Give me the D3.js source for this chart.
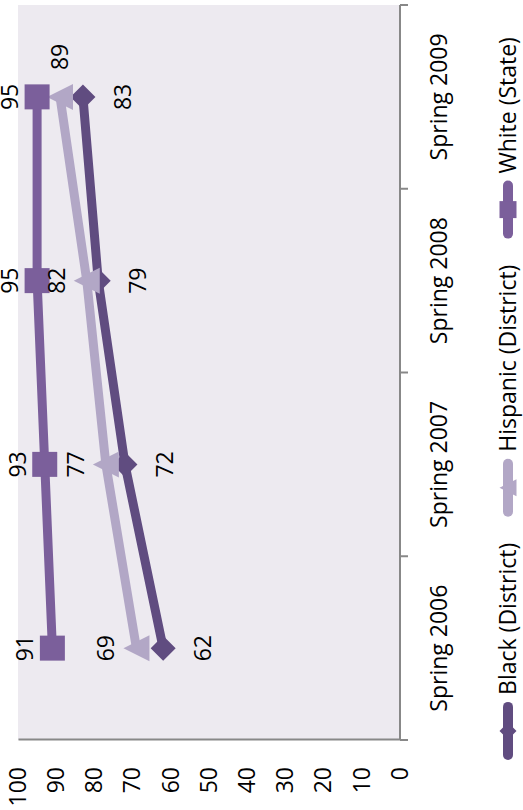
<!DOCTYPE html>
<html>
<head>
<meta charset="utf-8">
<script src="https://cdn.jsdelivr.net/npm/d3@7"></script>
<style>
  html, body { margin: 0; padding: 0; background: #ffffff; }
  svg { display: block; }
  text { font-family: "Open Sans", sans-serif; fill: #000; }
</style>
</head>
<body>
<svg id="chart" width="523" height="810"></svg>
<script>
// ---- data ----
const categories = ["Spring 2006", "Spring 2007", "Spring 2008", "Spring 2009"];
const seriesNames = ["Black (District)", "Hispanic (District)", "White (State)"];
const blackDistrict = [62, 72, 79, 83];
const hispanicDistrict = [69, 77, 82, 89];
const whiteState = [91, 93, 95, 95];
const valueTicks = [0, 10, 20, 30, 40, 50, 60, 70, 80, 90, 100];

// ---- styles / layout ----
const W = 810, H = 523;           // chart drawn in landscape, then rotated
const colors = ["#604C80", "#B2A7C6", "#7B5F9B"];
const shapes = ["diamond", "triangle", "square"];
const fontSize = 23;
const plot = { left: 70, right: 805, top: 18, bottom: 400 };

const svg = d3.select("#chart");
const g = svg.append("g").attr("transform", `translate(0,${W}) rotate(-90)`);

const x = d3.scaleBand().domain(categories).range([plot.left, plot.right]).padding(0);
const y = d3.scaleLinear().domain([0, 100]).range([plot.bottom, plot.top]);
const cx = c => x(c) + x.bandwidth() / 2;

// plot background
g.append("rect")
  .attr("x", plot.left).attr("y", plot.top)
  .attr("width", plot.right - plot.left).attr("height", plot.bottom - plot.top)
  .attr("fill", "#EDEAF0");

// value axis (left in landscape)
const yAxis = d3.axisLeft(y).tickValues(valueTicks).tickSize(0).tickPadding(27);
const ya = g.append("g").attr("transform", `translate(${plot.left},0)`).call(yAxis);
ya.select(".domain").attr("stroke", "#888888").attr("stroke-width", 2);
ya.selectAll("text").attr("font-size", fontSize).attr("font-family", "Open Sans, sans-serif").attr("fill", "#000");

// category axis (bottom in landscape)
const xaG = g.append("g");
xaG.append("line")
  .attr("x1", plot.left).attr("x2", plot.right)
  .attr("y1", plot.bottom).attr("y2", plot.bottom)
  .attr("stroke", "#888888").attr("stroke-width", 2);
const boundaries = categories.map(c => x(c)).concat([x(categories[categories.length - 1]) + x.bandwidth()]);
xaG.selectAll("line.tick").data(boundaries).enter().append("line")
  .attr("class", "tick")
  .attr("x1", d => d).attr("x2", d => d)
  .attr("y1", plot.bottom).attr("y2", plot.bottom + 8)
  .attr("stroke", "#888888").attr("stroke-width", 2);
xaG.selectAll("text").data(categories).enter().append("text")
  .attr("x", d => cx(d)).attr("y", plot.bottom + 47)
  .attr("text-anchor", "middle").attr("font-size", fontSize)
  .text(d => d);

// markers
function markerPath(shape, size) {
  const s = size / 2;
  if (shape === "square") return `M${-s},${-s}H${s}V${s}H${-s}Z`;
  if (shape === "diamond") return `M0,${-s}L${s},0L0,${s}L${-s},0Z`;
  // triangle pointing up
  return `M0,${-s}L${s},${s}L${-s},${s}Z`;
}

const allSeries = [blackDistrict, hispanicDistrict, whiteState];
const line = d3.line().x(d => cx(d.c)).y(d => y(d.v));

allSeries.forEach((vals, i) => {
  const pts = vals.map((v, j) => ({ c: categories[j], v }));
  const sg = g.append("g");
  sg.append("path").datum(pts)
    .attr("d", line).attr("fill", "none")
    .attr("stroke", colors[i]).attr("stroke-width", 9)
    .attr("stroke-linejoin", "round");
  const size = shapes[i] === "square" ? 25 : (shapes[i] === "diamond" ? 25 : 26);
  sg.selectAll("path.m").data(pts).enter().append("path")
    .attr("class", "m")
    .attr("d", markerPath(shapes[i], size))
    .attr("transform", d => `translate(${cx(d.c)},${y(d.v)})`)
    .attr("fill", colors[i]);
});

// data labels
function addLabel(px, py, txt) {
  g.append("text").attr("x", px).attr("y", py + 8)
    .attr("text-anchor", "middle").attr("font-size", fontSize).text(txt);
}
blackDistrict.forEach((v, j) => addLabel(cx(categories[j]), y(v) + 40, v));
hispanicDistrict.forEach((v, j) => {
  if (j === hispanicDistrict.length - 1) addLabel(cx(categories[j]) + 40, y(v), v);
  else addLabel(cx(categories[j]), y(v) - 30, v);
});
whiteState.forEach((v, j) => addLabel(cx(categories[j]), y(v) - 27, v));

// legend
const legY = 508;
const symLen = 58, symGap = 7, itemGap = 26;
const leg = g.append("g");
let items = [];
seriesNames.forEach((name, i) => {
  const it = leg.append("g");
  it.append("line").attr("x1", 5).attr("x2", symLen - 5).attr("y1", 0).attr("y2", 0)
    .attr("stroke", colors[i]).attr("stroke-width", 10).attr("stroke-linecap", "round");
  it.append("path").attr("d", markerPath(shapes[i], 17))
    .attr("transform", `translate(${symLen / 2},0)`).attr("fill", colors[i]);
  const t = it.append("text").attr("x", symLen + symGap).attr("y", 8)
    .attr("font-size", fontSize).text(name);
  items.push({ it, w: symLen + symGap + t.node().getComputedTextLength() });
});
const total = d3.sum(items, d => d.w) + itemGap * (items.length - 1);
let pos = 411.5 - total / 2;
items.forEach(d => {
  d.it.attr("transform", `translate(${pos},${legY})`);
  pos += d.w + itemGap;
});
</script>
</body>
</html>
